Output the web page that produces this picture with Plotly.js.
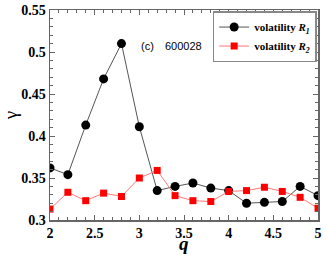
<!DOCTYPE html>
<html><head><meta charset="utf-8">
<script src="https://cdn.plot.ly/plotly-3.0.1.min.js"></script>
<style>body{margin:0;padding:0;background:#fff}#chart{width:327px;height:254px}</style>
</head><body><div id="chart"></div>
<script>
const q = [2.0,2.2,2.4,2.6,2.8,3.0,3.2,3.4,3.6,3.8,4.0,4.2,4.4,4.6,4.8,5.0];
const gammaR1 = [0.362,0.354,0.413,0.468,0.510,0.411,0.335,0.340,0.344,0.338,0.335,0.320,0.321,0.322,0.340,0.329];
const gammaR2 = [0.313,0.333,0.323,0.332,0.328,0.350,0.359,0.329,0.323,0.322,0.334,0.335,0.339,0.334,0.327,0.314];
const name1 = '<b>volatility <i>R</i><sub><i>1</i></sub></b>';
const name2 = '<b>volatility <i>R</i><sub><i>2</i></sub></b>';
const xTicks = [2,2.5,3,3.5,4,4.5,5];
const yTicks = [0.3,0.35,0.4,0.45,0.5,0.55];

const traces = [
 {x:q, y:gammaR1, name:name1, mode:'lines+markers', line:{color:'#555',width:1}, marker:{color:'#000',size:9,symbol:'circle'}},
 {x:q, y:gammaR2, name:name2, mode:'lines+markers', line:{color:'#f77',width:1}, marker:{color:'#f00',size:7,symbol:'square'}}
];
const axisCommon = {showline:true, mirror:'allticks', linecolor:'#666', linewidth:1.5, ticks:'inside', ticklen:5, tickcolor:'#666', showgrid:false, zeroline:false, automargin:false,
  tickfont:{family:'Liberation Serif, Times New Roman, serif', size:14, color:'#000', weight:'bold'}};
const layout = {
 width:327, height:254, margin:{l:50,r:9,t:10,b:34},
 paper_bgcolor:'#fff', plot_bgcolor:'#fff', showlegend:true,
 xaxis:Object.assign({}, axisCommon, {range:[2,5], tickvals:xTicks, ticktext:xTicks.map(String),
   minor:{dtick:0.1, ticks:'inside', ticklen:3, tickcolor:'#666'}}),
 yaxis:Object.assign({}, axisCommon, {range:[0.3,0.55], tickvals:yTicks, ticktext:yTicks.map(String),
   minor:{dtick:0.01, ticks:'inside', ticklen:3, tickcolor:'#666'},
   title:{text:'γ', font:{family:'Liberation Serif, serif', size:19, color:'#000'}, standoff:4}}),
 legend:{x:0.995, xanchor:'right', y:0.995, yanchor:'top', bgcolor:'#fff', bordercolor:'#888', borderwidth:1.5,
   font:{family:'Liberation Serif, serif', size:11, color:'#000'}, itemwidth:30, tracegroupgap:0},
 annotations:[
  {x:3.0, y:0.507, xref:'x', yref:'y', text:'(c)', showarrow:false, xanchor:'left',
   font:{family:'Liberation Sans, Arial, sans-serif', size:11, color:'#000'}},
  {x:3.27, y:0.507, xref:'x', yref:'y', text:'600028', showarrow:false, xanchor:'left',
   font:{family:'Liberation Sans, Arial, sans-serif', size:11, color:'#000'}},
  {x:0.5, y:-0.114, xref:'paper', yref:'paper', yanchor:'middle', text:'<b><i>q</i></b>', showarrow:false,
   font:{family:'Liberation Serif, serif', size:19, color:'#000'}}]
};
Plotly.newPlot('chart', traces, layout, {displayModeBar:false, staticPlot:true});
</script></body></html>
